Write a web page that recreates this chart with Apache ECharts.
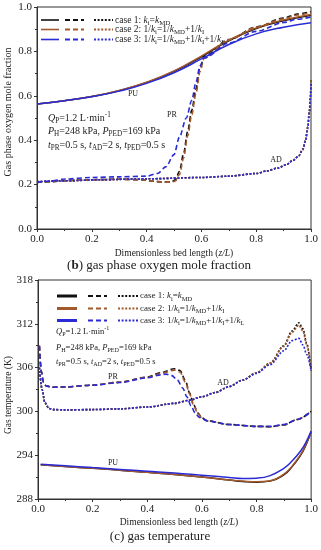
<!DOCTYPE html>
<html><head><meta charset="utf-8">
<script src="https://cdn.jsdelivr.net/npm/echarts@6/dist/echarts.min.js"></script>
<style>html,body{margin:0;padding:0;background:#fff}#c{width:321px;height:550px}</style>
</head><body><div id="c"></div>
<script>
// ---------- DATA: (b) gas phase oxygen mole fraction ----------
const o2_PU_x = [0, 0.1, 0.2, 0.3, 0.4, 0.5, 0.6, 0.7, 0.8, 0.9, 1.0];
const o2_PU_case1 = [0.563, 0.578, 0.597, 0.623, 0.660, 0.710, 0.776, 0.848, 0.903, 0.938, 0.963];
const o2_PU_case2 = [0.563, 0.578, 0.597, 0.624, 0.661, 0.712, 0.779, 0.851, 0.906, 0.941, 0.966];
const o2_PU_case3 = [0.563, 0.578, 0.596, 0.621, 0.656, 0.704, 0.766, 0.831, 0.879, 0.909, 0.929];

const o2_PR_x12 = [0, 0.05, 0.1, 0.2, 0.3, 0.38, 0.42, 0.46, 0.49, 0.505, 0.52, 0.535, 0.55, 0.565, 0.58, 0.595, 0.61, 0.7, 0.8, 0.9, 0.95, 1.0];
const o2_PR_case1 = [0.21, 0.213, 0.218, 0.222, 0.224, 0.222, 0.216, 0.211, 0.212, 0.222, 0.26, 0.34, 0.44, 0.536, 0.63, 0.728, 0.778, 0.853, 0.910, 0.950, 0.968, 0.979];
const o2_PR_case2 = [0.21, 0.213, 0.218, 0.222, 0.224, 0.222, 0.216, 0.211, 0.211, 0.216, 0.245, 0.32, 0.42, 0.515, 0.61, 0.710, 0.770, 0.852, 0.908, 0.947, 0.964, 0.975];
const o2_PR_x3 = [0, 0.05, 0.1, 0.2, 0.3, 0.4, 0.44, 0.47, 0.5, 0.52, 0.545, 0.565, 0.58, 0.595, 0.61, 0.7, 0.8, 0.9, 0.95, 1.0];
const o2_PR_case3 = [0.21, 0.216, 0.225, 0.232, 0.235, 0.238, 0.25, 0.28, 0.335, 0.415, 0.50, 0.58, 0.66, 0.735, 0.770, 0.838, 0.890, 0.930, 0.945, 0.955];

const o2_AD_x = [0, 0.1, 0.23, 0.4, 0.6, 0.7, 0.8, 0.84, 0.88, 0.91, 0.935, 0.955, 0.97, 0.98, 0.988, 0.994, 0.998, 1.0];
const o2_AD_case1 = [0.213, 0.217, 0.222, 0.226, 0.232, 0.238, 0.25, 0.262, 0.275, 0.29, 0.31, 0.33, 0.36, 0.40, 0.46, 0.53, 0.60, 0.67];
const o2_AD_case2 = [0.213, 0.217, 0.222, 0.226, 0.232, 0.238, 0.25, 0.262, 0.275, 0.29, 0.31, 0.33, 0.36, 0.40, 0.46, 0.53, 0.60, 0.67];
const o2_AD_case3 = [0.213, 0.217, 0.222, 0.226, 0.232, 0.238, 0.25, 0.262, 0.275, 0.29, 0.309, 0.328, 0.356, 0.395, 0.45, 0.52, 0.59, 0.66];

// ---------- DATA: (c) gas temperature ----------
const T_PU_x = [0.01, 0.1, 0.2, 0.3, 0.4, 0.5, 0.6, 0.7, 0.75, 0.8, 0.85, 0.9, 0.93, 0.96, 0.98, 1.0];
const T_PU_case1 = [292.7, 292.45, 292.2, 291.95, 291.65, 291.35, 291.0, 290.6, 290.4, 290.3, 290.45, 291.3, 292.4, 293.9, 295.3, 297.2];
const T_PU_case2 = [292.7, 292.45, 292.2, 291.95, 291.65, 291.35, 291.0, 290.6, 290.45, 290.35, 290.5, 291.4, 292.5, 294.0, 295.4, 297.2];
const T_PU_case3 = [292.75, 292.55, 292.3, 292.05, 291.8, 291.55, 291.25, 290.95, 290.8, 290.85, 291.2, 292.2, 293.2, 294.5, 295.7, 297.3];

const T_PR_x12 = [0.005, 0.012, 0.02, 0.03, 0.05, 0.1, 0.2, 0.3, 0.4, 0.45, 0.5, 0.52, 0.54, 0.555, 0.57, 0.585, 0.6, 0.62, 0.7, 0.8, 0.85, 0.9, 0.95, 1.0];
const T_PR_case1 = [309, 305.5, 304, 303.5, 303.3, 303.35, 303.6, 304.0, 304.7, 305.3, 305.85, 305.6, 304.2, 302.5, 300.9, 299.8, 299.1, 298.7, 298.2, 297.95, 297.9, 298.15, 298.9, 300];
const T_PR_case2 = [309, 305.5, 304, 303.5, 303.3, 303.35, 303.6, 304.0, 304.65, 305.2, 305.65, 305.4, 304.0, 302.4, 300.8, 299.7, 299.1, 298.7, 298.2, 297.95, 297.9, 298.15, 298.9, 300];
const T_PR_x3 = [0.005, 0.012, 0.02, 0.03, 0.05, 0.1, 0.2, 0.3, 0.4, 0.45, 0.47, 0.49, 0.51, 0.53, 0.545, 0.56, 0.575, 0.59, 0.6, 0.62, 0.7, 0.8, 0.85, 0.9, 0.95, 1.0];
const T_PR_case3 = [309, 305.5, 304, 303.5, 303.3, 303.35, 303.6, 303.95, 304.6, 305.0, 305.1, 304.9, 304.3, 303.2, 302.0, 300.8, 299.8, 299.2, 299.0, 298.7, 298.2, 297.95, 297.95, 298.2, 298.9, 300];

const T_AD_x = [0.005, 0.015, 0.025, 0.04, 0.06, 0.1, 0.2, 0.3, 0.4, 0.5, 0.55, 0.6, 0.65, 0.7, 0.75, 0.8, 0.85, 0.9, 0.93, 0.955, 0.97, 0.984, 1.0];
const T_AD_case1 = [306, 303, 301.2, 300.4, 300.25, 300.2, 300.25, 300.35, 300.6, 301.1, 301.5, 302.0, 302.6, 303.4, 304.3, 305.3, 306.6, 309.0, 311.0, 312.15, 311.3, 309.3, 305.6];
const T_AD_case2 = [306, 303, 301.2, 300.4, 300.25, 300.2, 300.25, 300.35, 300.6, 301.1, 301.5, 302.0, 302.6, 303.4, 304.3, 305.3, 306.6, 308.9, 310.8, 311.8, 311.0, 309.1, 305.6];
const T_AD_case3 = [306, 303, 301.2, 300.4, 300.25, 300.2, 300.25, 300.35, 300.6, 301.1, 301.5, 302.0, 302.6, 303.4, 304.3, 305.2, 306.4, 308.3, 309.7, 310.0, 309.1, 307.8, 305.6];

const o2Ticks = { min: 0, max: 1, interval: 0.2 };
const TTicks = { min: 288, max: 318, interval: 6 };
const xTicks = { min: 0, max: 1, interval: 0.2 };

// ---------- STYLE ----------
const COL = ['#111111', '#a3592b', '#2b2bd6'];
const FONT = 'Liberation Serif';
const zip = (xs, ys) => xs.map((x, i) => [x, ys[i]]);

const series = [];
function add(gi, xs, ys, ci, kind) {
  const type = kind === 'PU' ? 'solid' : (kind === 'PR' ? [5, 3] : [2, 1.6]);
  const s = {
    type: 'line', xAxisIndex: gi, yAxisIndex: gi, data: zip(xs, ys),
    showSymbol: false, symbol: 'none', smooth: kind === 'PU' ? 0.5 : 0.3,
    lineStyle: { color: COL[ci], width: kind === 'PU' ? 1.5 : 1.6, type: type },
    silent: true, animation: false, z: 2 + ci
  };
  if (kind !== 'PU') s.smoothMonotone = 'x';
  series.push(s);
}
add(0, o2_PU_x, o2_PU_case1, 0, 'PU'); add(0, o2_PU_x, o2_PU_case2, 1, 'PU'); add(0, o2_PU_x, o2_PU_case3, 2, 'PU');
add(0, o2_PR_x12, o2_PR_case1, 0, 'PR'); add(0, o2_PR_x12, o2_PR_case2, 1, 'PR'); add(0, o2_PR_x3, o2_PR_case3, 2, 'PR');
add(0, o2_AD_x, o2_AD_case1, 0, 'AD'); add(0, o2_AD_x, o2_AD_case2, 1, 'AD'); add(0, o2_AD_x, o2_AD_case3, 2, 'AD');
add(1, T_PU_x, T_PU_case1, 0, 'PU'); add(1, T_PU_x, T_PU_case2, 1, 'PU'); add(1, T_PU_x, T_PU_case3, 2, 'PU');
add(1, T_PR_x12, T_PR_case1, 0, 'PR'); add(1, T_PR_x12, T_PR_case2, 1, 'PR'); add(1, T_PR_x3, T_PR_case3, 2, 'PR');
add(1, T_AD_x, T_AD_case1, 0, 'AD'); add(1, T_AD_x, T_AD_case2, 1, 'AD'); add(1, T_AD_x, T_AD_case3, 2, 'AD');

function xAx(gi, t) {
  return {
    gridIndex: gi, type: 'value', min: t.min, max: t.max, interval: t.interval,
    axisLine: { show: true, onZero: false, lineStyle: { color: '#333', width: 1 } },
    axisTick: { show: true, inside: false, length: 3, lineStyle: { color: '#333' } },
    minorTick: { show: true, splitNumber: 2, length: 2, lineStyle: { color: '#333' } },
    splitLine: { show: false },
    axisLabel: { margin: 5, fontFamily: FONT, fontSize: 11, color: '#222', formatter: v => v.toFixed(1) }
  };
}
function yAx(gi, t, dec) {
  return {
    gridIndex: gi, type: 'value', min: t.min, max: t.max, interval: t.interval,
    axisLine: { show: true, onZero: false, lineStyle: { color: '#333', width: 1 } },
    axisTick: { show: true, inside: false, length: 3, lineStyle: { color: '#333' } },
    minorTick: { show: true, splitNumber: 2, length: 2, lineStyle: { color: '#333' } },
    splitLine: { show: false },
    axisLabel: { margin: 5, fontFamily: FONT, fontSize: 11, color: '#222', formatter: v => v.toFixed(dec) }
  };
}

// rich text styles
function rich(fs) {
  return {
    n: { fontFamily: FONT, fontSize: fs, color: '#222', lineHeight: fs + 3 },
    i: { fontFamily: FONT, fontSize: fs, fontStyle: 'italic', color: '#222', lineHeight: fs + 3 },
    s: { fontFamily: FONT, fontSize: fs * 0.72, color: '#222', lineHeight: fs * 0.72, verticalAlign: 'bottom' },
    p: { fontFamily: FONT, fontSize: fs * 0.72, color: '#222', lineHeight: fs * 0.72, verticalAlign: 'top' },
    b: { fontFamily: FONT, fontSize: fs, fontWeight: 'bold', color: '#222', lineHeight: fs + 3 }
  };
}
function txt(x, y, text, fs, opt) {
  opt = opt || {};
  return {
    type: 'text', x: x, y: y, rotation: opt.rot || 0, silent: true, z: 10,
    style: { text: text, rich: rich(fs), align: opt.align || 'left', verticalAlign: 'middle',
      font: fs + 'px "' + FONT + '"', fill: '#222' }
  };
}
function seg(x1, x2, y, ci, kind, w) {
  const dash = kind === 'PU' ? null : (kind === 'PR' ? [5, 3] : [2, 1.6]);
  return { type: 'line', silent: true, z: 10,
    shape: { x1: x1, y1: y, x2: x2, y2: y },
    style: { stroke: COL[ci], lineWidth: w, lineDash: dash } };
}

const legTexts = [
  '{n|case 1: }{i|k}{s|i}{n|=}{i|k}{s|MD}',
  '{n|case 2: 1/}{i|k}{s|i}{n|=1/}{i|k}{s|MD}{n|+1/}{i|k}{s|I}',
  '{n|case 3: 1/}{i|k}{s|i}{n|=1/}{i|k}{s|MD}{n|+1/}{i|k}{s|I}{n|+1/}{i|k}{s|L}'
];
const annTexts = [
  '{i|Q}{s|P}{n|=1.2 L·min}{p|-1}',
  '{i|P}{s|H}{n|=248 kPa, }{i|P}{s|PED}{n|=169 kPa}',
  '{i|t}{s|PR}{n|=0.5 s, }{i|t}{s|AD}{n|=2 s, }{i|t}{s|PED}{n|=0.5 s}'
];

const g = [];
// legend (b)
[20, 29.5, 39.5].forEach((y, i) => {
  g.push(seg(41, 59, y, i, 'PU', 1.6), seg(65, 84, y, i, 'PR', 1.8), seg(94, 113, y, i, 'AD', 1.8));
  g.push(txt(115, y, legTexts[i], 9.5));
});
// legend (c)
[296, 308.5, 320.5].forEach((y, i) => {
  g.push(seg(57, 77, y, i, 'PU', 3), seg(88, 107, y, i, 'PR', 2.2), seg(118, 138, y, i, 'AD', 2));
  g.push(txt(140, y, legTexts[i], 9));
});
// annotations (b)
[118.5, 131.5, 145].forEach((y, i) => g.push(txt(48, y, annTexts[i], 10)));
// annotations (c)
[331.5, 347.5, 361.5].forEach((y, i) => g.push(txt(56, y, annTexts[i], 8.5)));
// step labels
g.push(txt(133, 94, '{n|PU}', 8, { align: 'center' }), txt(172, 115, '{n|PR}', 8, { align: 'center' }), txt(276, 160, '{n|AD}', 8, { align: 'center' }));
g.push(txt(113, 377, '{n|PR}', 8, { align: 'center' }), txt(223, 383, '{n|AD}', 8, { align: 'center' }), txt(113, 463, '{n|PU}', 8, { align: 'center' }));
// axis titles
g.push(txt(174, 253, '{n|Dimensionless bed length (}{i|z/L}{n|)}', 9.5, { align: 'center' }));
g.push(txt(179, 522, '{n|Dimensionless bed length (}{i|z/L}{n|)}', 9.5, { align: 'center' }));
g.push(txt(8, 112, '{n|Gas phase oxygen mole fraction}', 10, { align: 'center', rot: Math.PI / 2 }));
g.push(txt(8, 395, '{n|Gas temperature (K)}', 9.5, { align: 'center', rot: Math.PI / 2 }));
// captions
g.push(txt(159, 266, '{n|(}{b|b}{n|) gas phase oxygen mole fraction}', 13, { align: 'center' }));
g.push(txt(160, 537, '{n|(c) gas temperature}', 13, { align: 'center' }));

const chart = echarts.init(document.getElementById('c'), null, { renderer: 'canvas' });
chart.setOption({
  animation: false,
  backgroundColor: '#fff',
  grid: [
    { left: 37, top: 7, width: 274, height: 222, show: true, borderColor: '#333', borderWidth: 1, backgroundColor: 'transparent' },
    { left: 38, top: 280, width: 274, height: 219, show: true, borderColor: '#333', borderWidth: 1, backgroundColor: 'transparent' }
  ],
  xAxis: [xAx(0, xTicks), xAx(1, xTicks)],
  yAxis: [yAx(0, o2Ticks, 1), yAx(1, TTicks, 0)],
  series: series,
  graphic: g
});
</script></body></html>
